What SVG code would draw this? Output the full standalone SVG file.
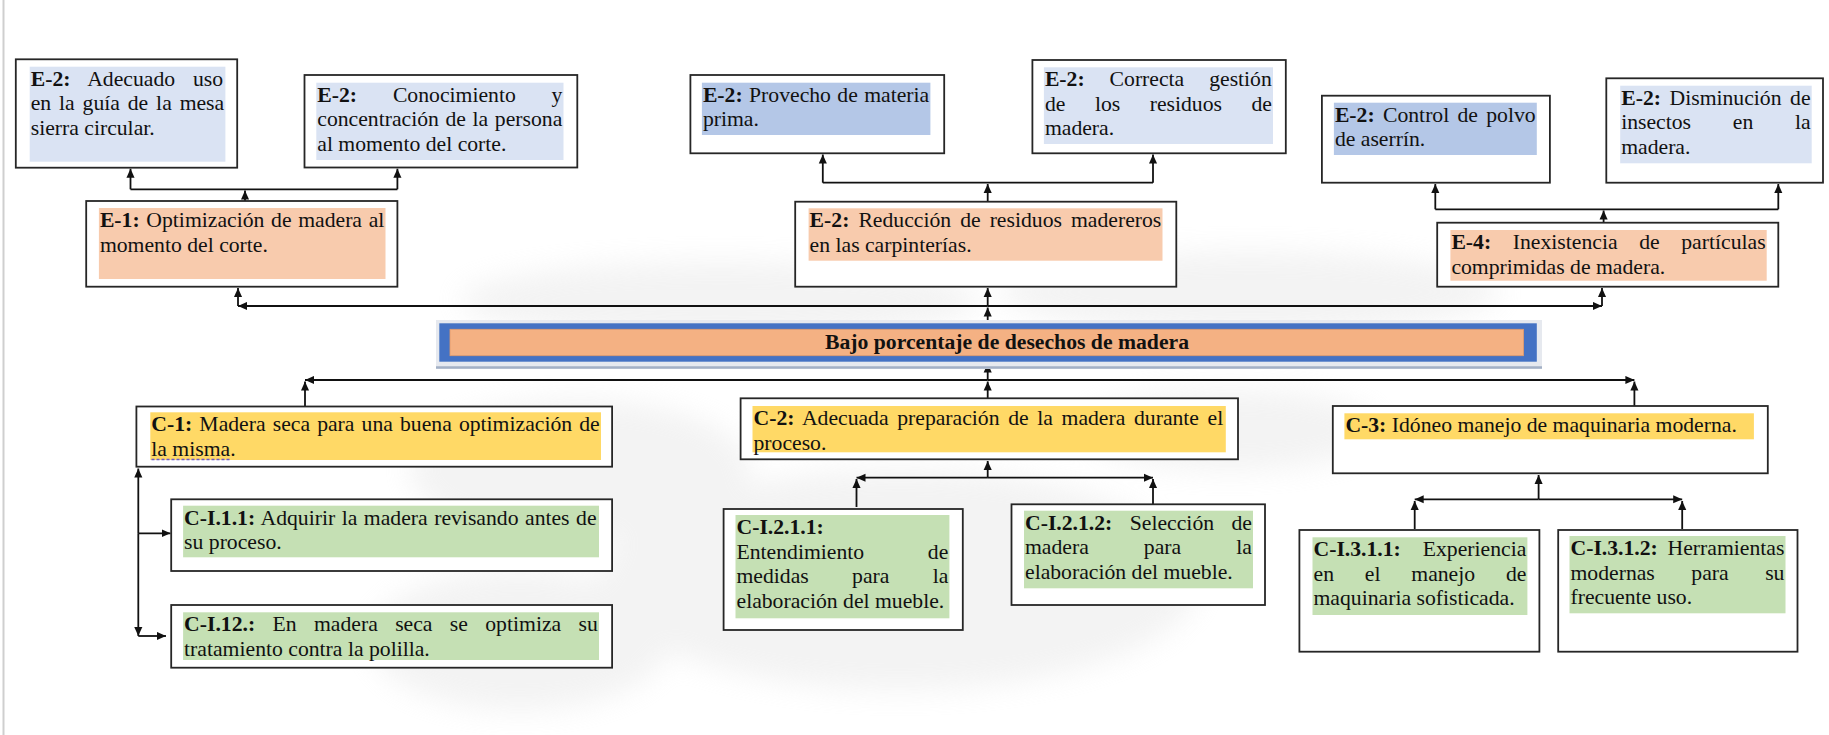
<svg xmlns="http://www.w3.org/2000/svg" width="1829" height="735" viewBox="0 0 1829 735">
<defs>
<style>
.box{fill:#fff;stroke:#262626;stroke-width:1.8}
.lb{fill:#dae3f3}.db{fill:#b4c7e7}.pe{fill:#f8cbad}.ye{fill:#ffd966}.gr{fill:#c5e0b4}
text{font-family:"Liberation Serif","Times New Roman",serif;font-size:21.7px;fill:#111}
.b{font-weight:bold}
#connectors line{stroke:#111;stroke-width:1.8;fill:none}
#connectors .ar{marker-end:url(#ah)}
</style>
<marker id="ah" viewBox="0 0 10 10" refX="10" refY="5" markerWidth="9" markerHeight="9" markerUnits="userSpaceOnUse" orient="auto"><path d="M0,0.5 L10,5 L0,9.5 Z" fill="#111"/></marker>
<filter id="blur" x="-20%" y="-20%" width="140%" height="140%"><feGaussianBlur stdDeviation="14"/></filter>
</defs>
<rect x="0" y="0" width="1829" height="735" fill="#fff"/>
<line x1="3.5" y1="0" x2="3.5" y2="735" stroke="#cfcfcf" stroke-width="2"/>
<g id="watermark" filter="url(#blur)" fill="#dedede" opacity="0.36">
<ellipse cx="720" cy="300" rx="260" ry="38"/>
<ellipse cx="1250" cy="292" rx="250" ry="40"/>
<ellipse cx="580" cy="470" rx="170" ry="70"/>
<ellipse cx="900" cy="580" rx="300" ry="110"/>
<ellipse cx="520" cy="640" rx="150" ry="70"/>
<ellipse cx="1230" cy="430" rx="150" ry="40"/>
</g>

<g id="connectors">
<line x1="245" y1="201" x2="245" y2="190.5" class="ar"/>
<line x1="130.5" y1="189.3" x2="397.4" y2="189.3"/>
<line x1="130.5" y1="189.3" x2="130.5" y2="168.7" class="ar"/>
<line x1="397.4" y1="189.3" x2="397.4" y2="168.7" class="ar"/>

<line x1="987.7" y1="201.7" x2="987.7" y2="184" class="ar"/>
<line x1="822.8" y1="182.7" x2="1153" y2="182.7"/>
<line x1="822.8" y1="182.7" x2="822.8" y2="154.5" class="ar"/>
<line x1="1153" y1="182.7" x2="1153" y2="154.5" class="ar"/>

<line x1="1603.6" y1="222.7" x2="1603.6" y2="210.5" class="ar"/>
<line x1="1435.3" y1="209.3" x2="1778.3" y2="209.3"/>
<line x1="1435.3" y1="209.3" x2="1435.3" y2="184" class="ar"/>
<line x1="1778.3" y1="209.3" x2="1778.3" y2="184" class="ar"/>

<line x1="987.7" y1="323.3" x2="987.7" y2="307.5" class="ar"/>
<line x1="987.7" y1="306" x2="987.7" y2="288" class="ar"/>
<line x1="987.7" y1="306" x2="238" y2="306" class="ar"/>
<line x1="238" y1="306" x2="238" y2="288" class="ar"/>
<line x1="987.7" y1="306" x2="1602" y2="306" class="ar"/>
<line x1="1602" y1="306" x2="1602" y2="288" class="ar"/>

<line x1="987.7" y1="380" x2="987.7" y2="363.5" class="ar"/>
<line x1="987.7" y1="398.3" x2="987.7" y2="381.5" class="ar"/>
<line x1="987.7" y1="380" x2="305" y2="380" class="ar"/>
<line x1="305" y1="406.5" x2="305" y2="381.5" class="ar"/>
<line x1="987.7" y1="380" x2="1634.4" y2="380" class="ar"/>
<line x1="1634.4" y1="406" x2="1634.4" y2="381.5" class="ar"/>

<line x1="138.3" y1="533.3" x2="138.3" y2="468.5" class="ar"/>
<line x1="138.3" y1="533.3" x2="138.3" y2="636" class="ar"/>
<line x1="138.3" y1="636" x2="166" y2="636" class="ar"/>
<line x1="138.3" y1="533.3" x2="170.5" y2="533.3" class="ar"/>

<line x1="987.7" y1="477.7" x2="987.7" y2="461" class="ar"/>
<line x1="987.7" y1="477.7" x2="856.5" y2="477.7" class="ar"/>
<line x1="856.5" y1="507" x2="856.5" y2="479" class="ar"/>
<line x1="987.7" y1="477.7" x2="1153" y2="477.7" class="ar"/>
<line x1="1153" y1="504.3" x2="1153" y2="479" class="ar"/>

<line x1="1538.6" y1="499.3" x2="1538.6" y2="475" class="ar"/>
<line x1="1538.6" y1="499.3" x2="1414.7" y2="499.3" class="ar"/>
<line x1="1414.7" y1="529" x2="1414.7" y2="501" class="ar"/>
<line x1="1538.6" y1="499.3" x2="1682.2" y2="499.3" class="ar"/>
<line x1="1682.2" y1="529" x2="1682.2" y2="501" class="ar"/>
</g>

<g id="e2-adecuado">
<rect class="box" x="15.8" y="59.3" width="221.4" height="108.4"/>
<rect class="lb" x="29.7" y="66.7" width="195.7" height="95"/>
<text x="30.7" y="85.7" word-spacing="12.5"><tspan class="b">E-2:</tspan> Adecuado uso</text>
<text x="30.7" y="110.2" word-spacing="2.45">en la guía de la mesa</text>
<text x="30.7" y="134.7">sierra circular.</text>
</g>
<g id="e2-conocimiento">
<rect class="box" x="304.5" y="75" width="272.8" height="92.5"/>
<rect class="lb" x="316.3" y="82.7" width="247.2" height="77.3"/>
<text x="317.3" y="101.7" word-spacing="30.4"><tspan class="b">E-2:</tspan> Conocimiento y</text>
<text x="317.3" y="126.2" word-spacing="1.17">concentración de la persona</text>
<text x="317.3" y="150.7">al momento del corte.</text>
</g>
<g id="e1-optimizacion">
<rect class="box" x="86.2" y="201" width="311.2" height="85.7"/>
<rect class="pe" x="98.9" y="208" width="286.6" height="71"/>
<text x="99.9" y="227" word-spacing="1.25"><tspan class="b">E-1:</tspan> Optimización de madera al</text>
<text x="99.9" y="251.5">momento del corte.</text>
</g>
<g id="e2-provecho">
<rect class="box" x="690.4" y="75" width="253.8" height="78.3"/>
<rect class="db" x="701.9" y="82.7" width="228.5" height="52.3"/>
<text x="702.9" y="101.7" word-spacing="0.97"><tspan class="b">E-2:</tspan> Provecho de materia</text>
<text x="702.9" y="126.2">prima.</text>
</g>
<g id="e2-correcta">
<rect class="box" x="1032.4" y="60" width="253.4" height="93.3"/>
<rect class="lb" x="1043.9" y="67.3" width="229.1" height="76.7"/>
<text x="1044.9" y="86.3" word-spacing="19.5"><tspan class="b">E-2:</tspan> Correcta gestión</text>
<text x="1044.9" y="110.8" word-spacing="24.1">de los residuos de</text>
<text x="1044.9" y="135.3">madera.</text>
</g>
<g id="e2-reduccion">
<rect class="box" x="795.2" y="201.7" width="381.1" height="85"/>
<rect class="pe" x="808.6" y="208.3" width="353.9" height="52.4"/>
<text x="809.6" y="227.3" word-spacing="3.6"><tspan class="b">E-2:</tspan> Reducción de residuos madereros</text>
<text x="809.6" y="251.8">en las carpinterías.</text>
</g>
<g id="e2-control">
<rect class="box" x="1321.9" y="95.7" width="228" height="87"/>
<rect class="db" x="1333.9" y="102.7" width="202.9" height="52.3"/>
<text x="1334.9" y="121.7" word-spacing="2.87"><tspan class="b">E-2:</tspan> Control de polvo</text>
<text x="1334.9" y="146.2">de aserrín.</text>
</g>
<g id="e2-disminucion">
<rect class="box" x="1606.3" y="78.3" width="216.7" height="104.4"/>
<rect class="lb" x="1620.2" y="85.7" width="191.5" height="77.6"/>
<text x="1621.2" y="104.7" word-spacing="3.13"><tspan class="b">E-2:</tspan> Disminución de</text>
<text x="1621.2" y="129.2" word-spacing="36.3">insectos en la</text>
<text x="1621.2" y="153.7">madera.</text>
</g>
<g id="e4-inexistencia">
<rect class="box" x="1437.2" y="222.7" width="341.1" height="64"/>
<rect class="pe" x="1450.4" y="230" width="316.3" height="50.7"/>
<text x="1451.4" y="249" word-spacing="16.2"><tspan class="b">E-4:</tspan> Inexistencia de partículas</text>
<text x="1451.4" y="273.5">comprimidas de madera.</text>
</g>

<g id="problema">
<rect x="436" y="320" width="1106" height="49" fill="#e6e9ef"/>
<line x1="436" y1="367.5" x2="1542" y2="367.5" stroke="#a3b0c6" stroke-width="2.5"/>
<rect x="439.3" y="323.3" width="1097.5" height="38.4" fill="#4472c4"/>
<rect x="450" y="329.3" width="1073.6" height="26.4" fill="#f4b183" stroke="#e09a6c" stroke-width="0.8"/>
<text x="825" y="348.5" class="b">Bajo porcentaje de desechos de madera</text>
</g>

<g id="c1">
<rect class="box" x="136.4" y="406.5" width="475.7" height="60.2"/>
<rect class="ye" x="150.3" y="412.3" width="450.7" height="47.7"/>
<text x="151.3" y="431.3" word-spacing="1.69"><tspan class="b">C-1:</tspan> Madera seca para una buena optimización de</text>
<text x="151.3" y="455.8">la misma.</text>
<line x1="151.5" y1="459.5" x2="230.5" y2="459.5" stroke="#6a5acd" stroke-width="1.3" stroke-dasharray="3,2"/>
</g>
<g id="ci11">
<rect class="box" x="171.2" y="499.3" width="440.9" height="71.7"/>
<rect class="gr" x="183.1" y="505.7" width="415.9" height="51.6"/>
<text x="184.1" y="524.7" word-spacing="1.09"><tspan class="b">C-I.1.1:</tspan> Adquirir la madera revisando antes de</text>
<text x="184.1" y="549.2">su proceso.</text>
</g>
<g id="ci12">
<rect class="box" x="171.2" y="605" width="440.9" height="62.7"/>
<rect class="gr" x="183.1" y="612.3" width="415.9" height="47.7"/>
<text x="184.1" y="631.3" word-spacing="11.94"><tspan class="b">C-I.12.:</tspan> En madera seca se optimiza su</text>
<text x="184.1" y="655.8">tratamiento contra la polilla.</text>
</g>
<g id="c2">
<rect class="box" x="740.6" y="398.3" width="497.4" height="61"/>
<rect class="ye" x="752.5" y="406" width="473.3" height="46.3"/>
<text x="753.5" y="425" word-spacing="3.2"><tspan class="b">C-2:</tspan> Adecuada preparación de la madera durante el</text>
<text x="753.5" y="449.5">proceso.</text>
</g>
<g id="c3">
<rect class="box" x="1332.8" y="406" width="435" height="67.3"/>
<rect class="ye" x="1344.4" y="413.3" width="409.5" height="26"/>
<text x="1345.4" y="432.3"><tspan class="b">C-3:</tspan> Idóneo manejo de maquinaria moderna.</text>
</g>
<g id="ci211">
<rect class="box" x="723.6" y="509" width="239.2" height="121"/>
<rect class="gr" x="735.5" y="515" width="213.9" height="103.3"/>
<text x="736.5" y="534" class="b">C-I.2.1.1:</text>
<text x="736.5" y="558.5" word-spacing="58.2">Entendimiento de</text>
<text x="736.5" y="583" word-spacing="37.9">medidas para la</text>
<text x="736.5" y="607.5">elaboración del mueble.</text>
</g>
<g id="ci212">
<rect class="box" x="1011.5" y="504.3" width="253.5" height="100.7"/>
<rect class="gr" x="1024" y="510.7" width="229" height="77.6"/>
<text x="1025" y="529.7" word-spacing="12"><tspan class="b">C-I.2.1.2:</tspan> Selección de</text>
<text x="1025" y="554.2" word-spacing="49.6">madera para la</text>
<text x="1025" y="578.7">elaboración del mueble.</text>
</g>
<g id="ci311">
<rect class="box" x="1299.4" y="530" width="240" height="121.7"/>
<rect class="gr" x="1312.5" y="537.3" width="214.9" height="77.7"/>
<text x="1313.5" y="556.3" word-spacing="16.5"><tspan class="b">C-I.3.1.1:</tspan> Experiencia</text>
<text x="1313.5" y="580.8" word-spacing="25.4">en el manejo de</text>
<text x="1313.5" y="605.3">maquinaria sofisticada.</text>
</g>
<g id="ci312">
<rect class="box" x="1558.2" y="530" width="239.3" height="121.7"/>
<rect class="gr" x="1569.5" y="536" width="216" height="77.3"/>
<text x="1570.5" y="555" word-spacing="4.3"><tspan class="b">C-I.3.1.2:</tspan> Herramientas</text>
<text x="1570.5" y="579.5" word-spacing="31.1">modernas para su</text>
<text x="1570.5" y="604">frecuente uso.</text>
</g>
</svg>
